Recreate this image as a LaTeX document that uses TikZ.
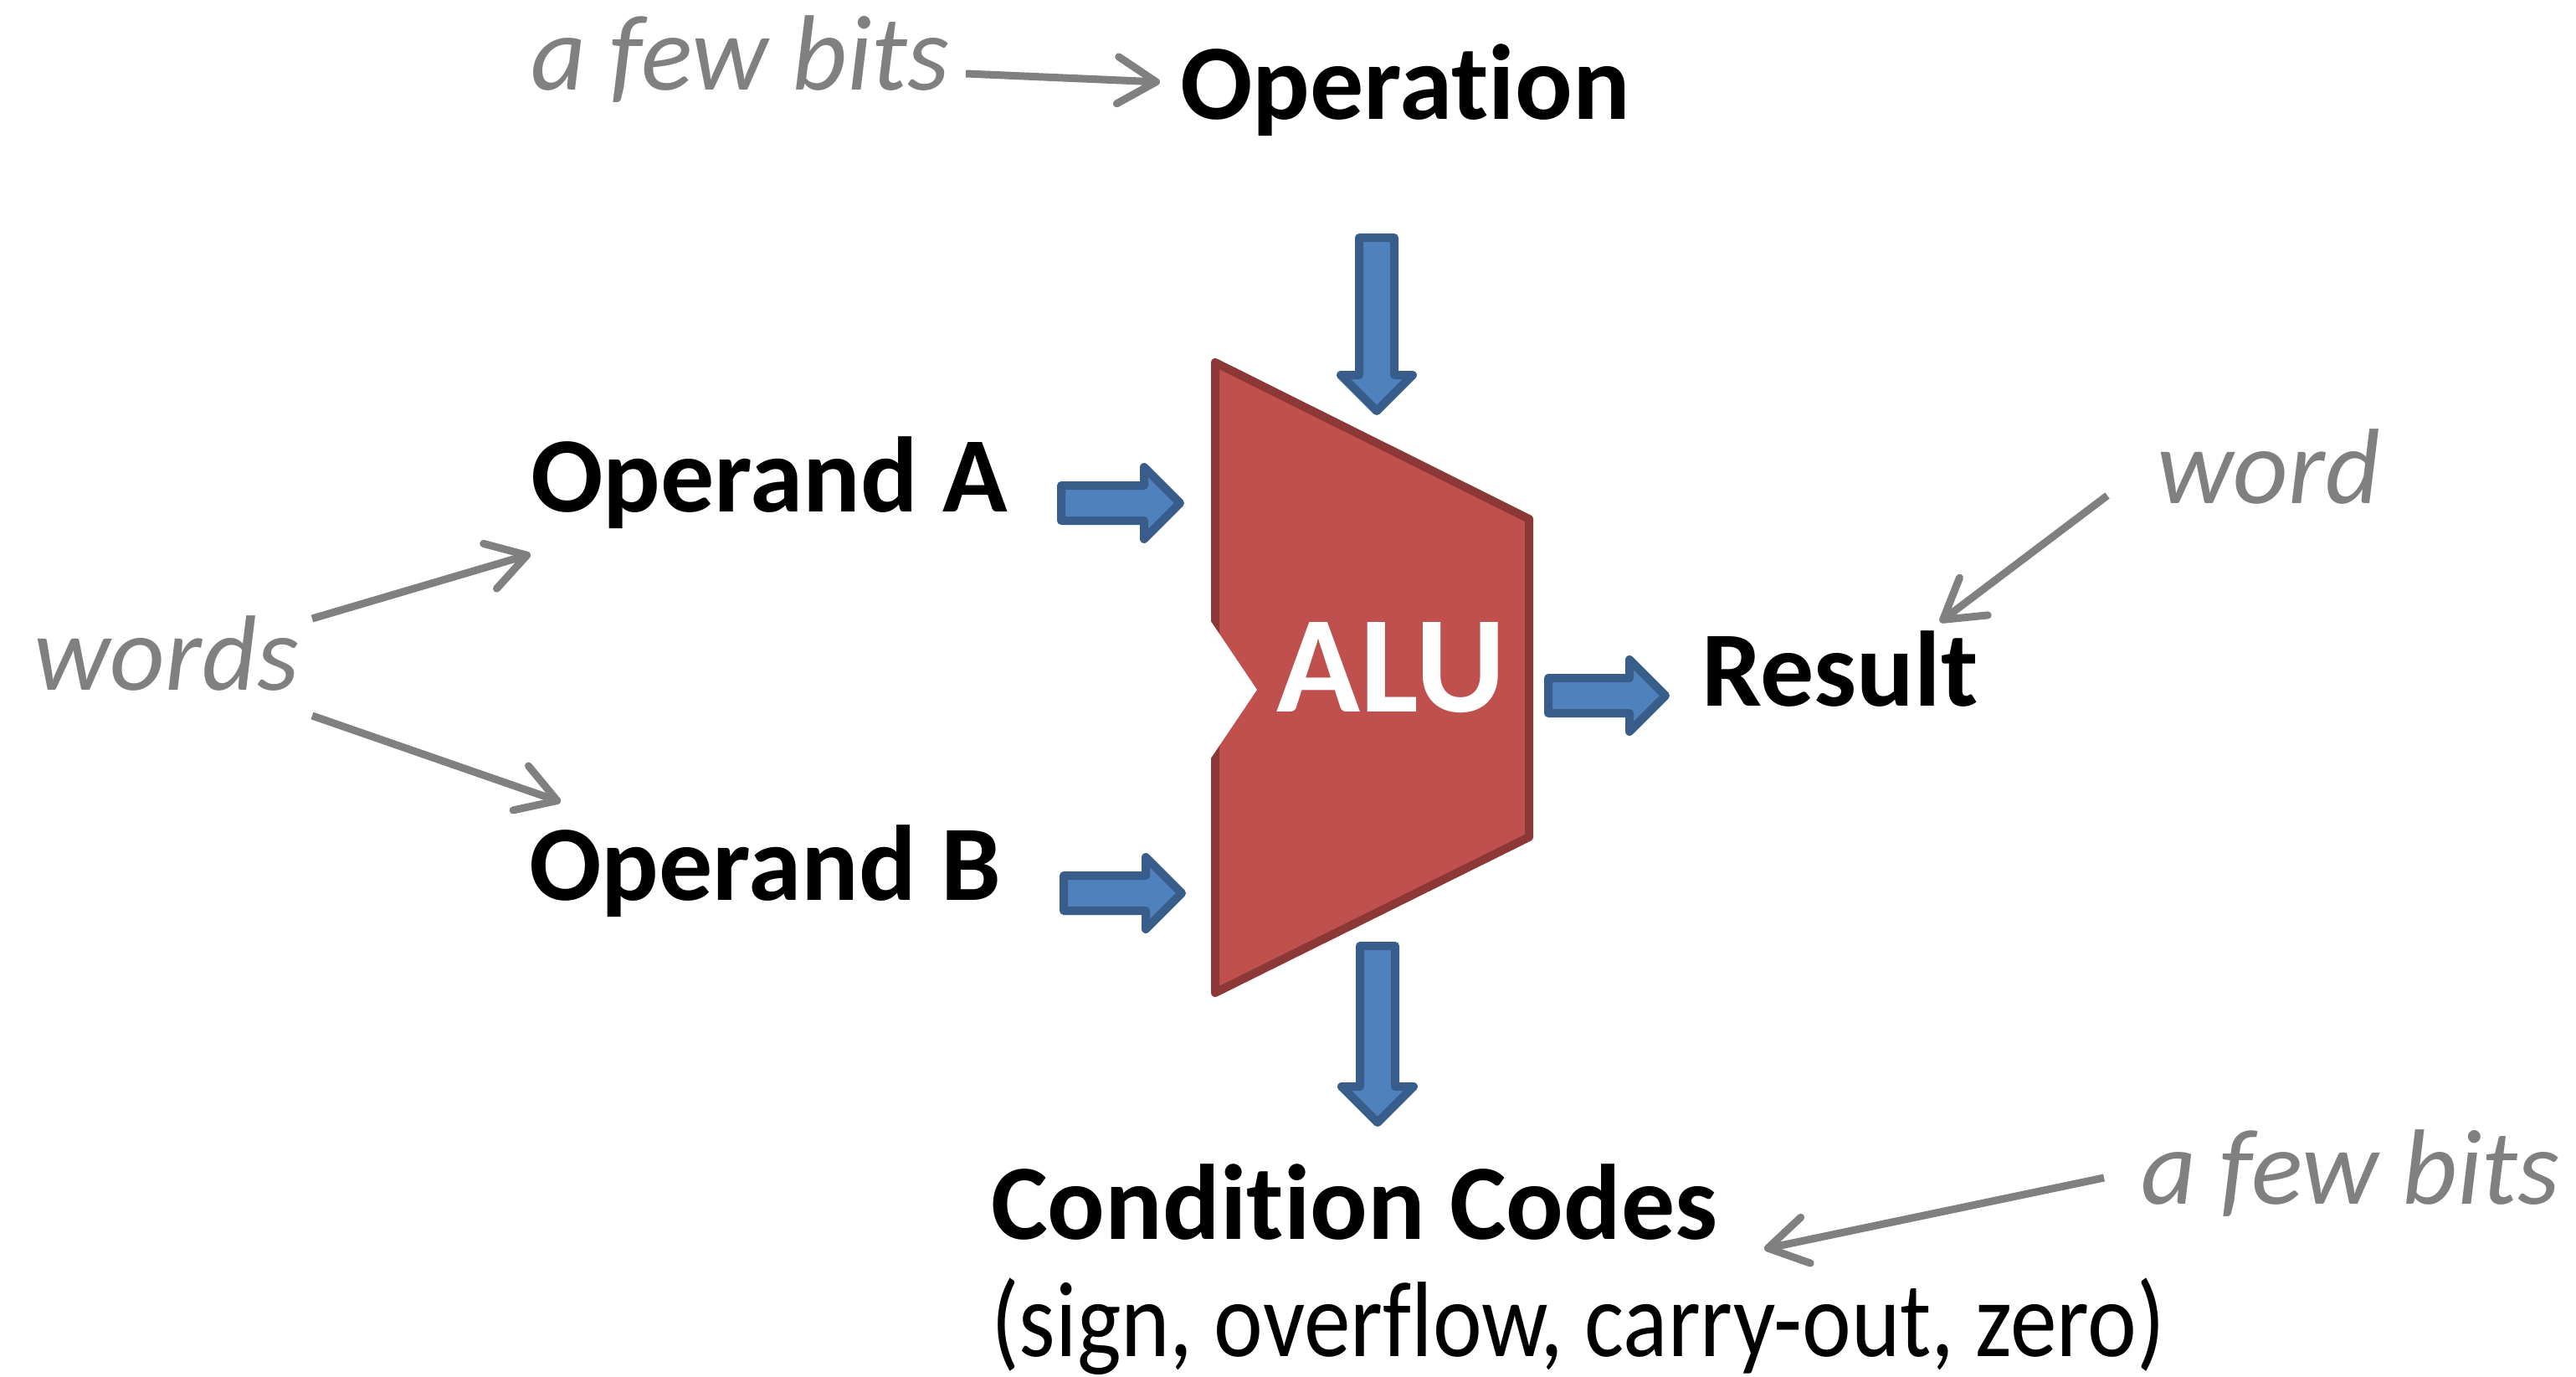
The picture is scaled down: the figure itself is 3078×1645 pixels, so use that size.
\documentclass[tikz,border=0pt]{standalone}
\usepackage{fontspec}
\setmainfont{Carlito}[Ligatures=NoCommon]
\newfontfamily\narrowfont{Carlito}[Ligatures=NoCommon, FakeStretch=0.87]
\usetikzlibrary{arrows.meta}
\definecolor{aluRed}{HTML}{C0504D}
\definecolor{aluBorder}{HTML}{8C3836}
\definecolor{arrBlue}{HTML}{4F81BD}
\definecolor{arrBorder}{HTML}{385D8A}
\definecolor{noteGray}{HTML}{808080}
% #1 start point, #2 rotation, #3 length
\newcommand{\blockarr}[3]{%
  \draw[blockarrow, shift={#1}, rotate=#2]
    (0,-21) -- (#3-43,-21) -- (#3-43,-43) -- (#3,0) -- (#3-43,43) -- (#3-43,21) -- (0,21) -- cycle;}
\begin{document}
\begin{tikzpicture}[x=1pt,y=-1pt,
  lbl/.style={inner sep=0pt, anchor=base west, font=\fontsize{128}{150}\selectfont\bfseries},
  note/.style={inner sep=0pt, anchor=base west, font=\fontsize{128}{150}\selectfont\itshape, text=noteGray},
  plain/.style={inner sep=0pt, anchor=base west, font=\narrowfont\fontsize{128}{150}\selectfont},
  pointer/.style={draw=noteGray, line width=9pt, -{Straight Barb[length=46pt,width=56pt,round]}},
  blockarrow/.style={fill=arrBlue, draw=arrBorder, line width=10pt, line join=round},
  alubody/.style={fill=aluRed, draw=aluBorder, line width=10pt, line join=round}]
\useasboundingbox (0,0) rectangle (3078,1645);
\fill[white] (0,0) rectangle (3078,1645);

% ALU body
\draw[alubody] (1452,433) -- (1827,620) -- (1827,1000) -- (1452,1186) -- cycle;
\fill[white] (1440,741) -- (1446,741) -- (1502,824) -- (1446,907) -- (1440,907) -- cycle;
\node[inner sep=0pt, anchor=base, text=white, font=\fontsize{165}{190}\selectfont\bfseries] (alu) at (1662,850) {ALU};

% block arrows
\blockarr{(1268,601)}{0}{142}
\blockarr{(1271,1067)}{0}{141}
\blockarr{(1850,831)}{0}{140}
\blockarr{(1645,284)}{-90}{207}
\blockarr{(1646,1130)}{-90}{211}

% labels
\node[lbl] (operation) at (1410,143) {Operation};
\node[lbl] (opA) at (634,611) {Operand A};
\node[lbl] (opB) at (632,1075) {Operand B};
\node[lbl] (result) at (2033,843) {Result};
\node[lbl] (cond) at (1184,1480) {Condition Codes};
\node[plain] (flags) at (1184,1620) {(sign, overflow, carry-out, zero)};

% notes
\node[note] (fewTop) at (634,108) {a few bits};
\node[note] (words) at (40,824) {words};
\node[note] (word) at (2577,601) {word};
\node[note] (fewBot) at (2558,1438) {a few bits};

% pointer coordinates
\coordinate (p1s) at (1154,88);  \coordinate (p1e) at (1386,98);
\coordinate (p2s) at (373,739);  \coordinate (p2e) at (634,662);
\coordinate (p3s) at (373,855);  \coordinate (p3e) at (670,958);
\coordinate (p4s) at (2518,592); \coordinate (p4e) at (2318,743);
\coordinate (p5s) at (2514,1407); \coordinate (p5e) at (2108,1492);

\draw[pointer] (p1s) -- (p1e);
\draw[pointer] (p2s) -- (p2e);
\draw[pointer] (p3s) -- (p3e);
\draw[pointer] (p4s) -- (p4e);
\draw[pointer] (p5s) -- (p5e);
\end{tikzpicture}
\end{document}
